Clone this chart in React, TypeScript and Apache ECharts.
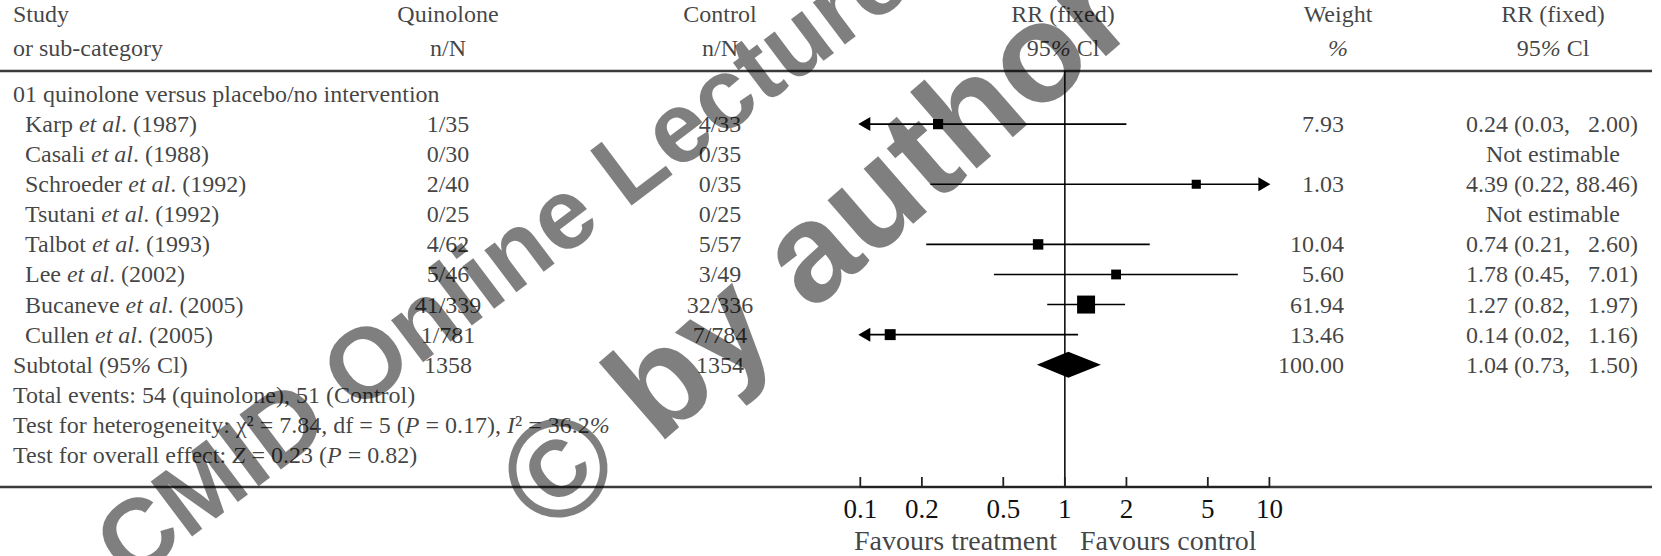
import React, { useEffect, useRef } from 'react';
import * as echarts from 'echarts';

// ---------------- data ----------------
const groupTitle = '01 quinolone versus placebo/no intervention';
const studies = ['Karp', 'Casali', 'Schroeder', 'Tsutani', 'Talbot', 'Lee', 'Bucaneve', 'Cullen'];
const years = ['1987', '1988', '1992', '1992', '1993', '2002', '2005', '2005'];
const quinoloneNN = ['1/35', '0/30', '2/40', '0/25', '4/62', '5/46', '41/339', '1/781'];
const controlNN = ['4/33', '0/35', '0/35', '0/25', '5/57', '3/49', '32/336', '7/784'];
const rrValues: (number | null)[] = [0.24, null, 4.39, null, 0.74, 1.78, 1.27, 0.14];
const rrLower: (number | null)[] = [0.03, null, 0.22, null, 0.21, 0.45, 0.82, 0.02];
const rrUpper: (number | null)[] = [2.0, null, 88.46, null, 2.6, 7.01, 1.97, 1.16];
const weights: (number | null)[] = [7.93, null, 1.03, null, 10.04, 5.6, 61.94, 13.46];
const subtotalTotals = ['1358', '1354'];
const subtotalWeight = 100.0;
const subtotalRR = [1.04, 0.73, 1.5];
const totalEvents = [54, 51];
const heterogeneity = { chi2: 7.84, df: 5, p: 0.17, i2: 36.2 };
const overallEffect = { z: 0.23, p: 0.82 };
const tickValues = [0.1, 0.2, 0.5, 1, 2, 5, 10];

// ---------------- layout ----------------
const W = 1661;
const H = 556;
const PITCH = 30.08;
const ROW0 = 94;
const Y_MIN = -3;
const GRID_TOP = ROW0 + Y_MIN * PITCH;
const TEXT_Y_MAX = 15;
const AXIS_Y = 487;
const PLOT_Y_MAX = Y_MIN + (AXIS_Y - GRID_TOP) / PITCH;
const rowOf = (px: number) => (px - ROW0) / PITCH;
const PLOT_LEFT = 860.3;
const PLOT_RIGHT = 1269.4;
const TICK_ROWS = 10 / PITCH;

const COL_STUDY = 13;
const COL_INDENT = 25;
const COL_Q = 448;
const COL_C = 720;
const COL_RRH = 1063;
const COL_WH = 1338;
const COL_W = 1344;
const COL_RR_L = 1466;
const COL_RR_R = 1638;
const COL_RR_C = 1553;

const FONT = '"Liberation Serif", "Times New Roman", serif';
const FS = 24;
const FS_AXIS = 27;
const FS_FAV = 28;
const TXT = '#111';
const base = { fontFamily: FONT, fontSize: FS, color: TXT };
const RICH = {
  n: { ...base },
  i: { ...base, fontStyle: 'italic' },
  f: { ...base, fontSize: FS_FAV },
};

const log10 = (v: number) => Math.log10(v);

type Align = 'left' | 'center' | 'right';
const txt = (x: number, row: number, str: string, align: Align) => ({
  value: [x, row],
  label: {
    show: true,
    position: 'inside',
    align,
    verticalAlign: 'middle',
    formatter: () => str,
    rich: RICH,
    ...base,
  },
});

const textItems: any[] = [];
// header
const hr1 = rowOf(14);
const hr2 = rowOf(48);
textItems.push(txt(COL_STUDY, hr1, '{n|Study}', 'left'));
textItems.push(txt(COL_STUDY, hr2, '{n|or sub-category}', 'left'));
textItems.push(txt(COL_Q, hr1, '{n|Quinolone}', 'center'));
textItems.push(txt(COL_Q, hr2, '{n|n/N}', 'center'));
textItems.push(txt(COL_C, hr1, '{n|Control}', 'center'));
textItems.push(txt(COL_C, hr2, '{n|n/N}', 'center'));
textItems.push(txt(COL_RRH, hr1, '{n|RR (fixed)}', 'center'));
textItems.push(txt(COL_RRH, hr2, '{n|95}{i|%}{n| Cl}', 'center'));
textItems.push(txt(COL_WH, hr1, '{n|Weight}', 'center'));
textItems.push(txt(COL_WH, hr2, '{i|%}', 'center'));
textItems.push(txt(COL_RR_C, hr1, '{n|RR (fixed)}', 'center'));
textItems.push(txt(COL_RR_C, hr2, '{n|95}{i|%}{n| Cl}', 'center'));

textItems.push(txt(COL_STUDY, 0, `{n|${groupTitle}}`, 'left'));
studies.forEach((s, k) => {
  const r = k + 1;
  textItems.push(txt(COL_INDENT, r, `{n|${s} }{i|et al}{n|. (${years[k]})}`, 'left'));
  textItems.push(txt(COL_Q, r, `{n|${quinoloneNN[k]}}`, 'center'));
  textItems.push(txt(COL_C, r, `{n|${controlNN[k]}}`, 'center'));
  const v = rrValues[k];
  if (v == null) {
    textItems.push(txt(COL_RR_C, r, '{n|Not estimable}', 'center'));
  } else {
    textItems.push(txt(COL_W, r, `{n|${(weights[k] as number).toFixed(2)}}`, 'right'));
    textItems.push(txt(COL_RR_L, r, `{n|${v.toFixed(2)} (${(rrLower[k] as number).toFixed(2)},}`, 'left'));
    textItems.push(txt(COL_RR_R, r, `{n|${(rrUpper[k] as number).toFixed(2)})}`, 'right'));
  }
});
const rs = studies.length + 1;
textItems.push(txt(COL_STUDY, rs, '{n|Subtotal (95}{i|%}{n| Cl)}', 'left'));
textItems.push(txt(COL_Q, rs, `{n|${subtotalTotals[0]}}`, 'center'));
textItems.push(txt(COL_C, rs, `{n|${subtotalTotals[1]}}`, 'center'));
textItems.push(txt(COL_W, rs, `{n|${subtotalWeight.toFixed(2)}}`, 'right'));
textItems.push(txt(COL_RR_L, rs, `{n|${subtotalRR[0].toFixed(2)} (${subtotalRR[1].toFixed(2)},}`, 'left'));
textItems.push(txt(COL_RR_R, rs, `{n|${subtotalRR[2].toFixed(2)})}`, 'right'));
textItems.push(
  txt(COL_STUDY, rs + 1, `{n|Total events: ${totalEvents[0]} (quinolone), ${totalEvents[1]} (Control)}`, 'left')
);
textItems.push(
  txt(
    COL_STUDY,
    rs + 2,
    `{n|Test for heterogeneity: χ² = ${heterogeneity.chi2.toFixed(2)}, df = ${heterogeneity.df} (}{i|P}{n| = ${heterogeneity.p.toFixed(
      2
    )}), }{i|I}{n|² = ${heterogeneity.i2.toFixed(1)}}{i|%}`,
    'left'
  )
);
textItems.push(
  txt(
    COL_STUDY,
    rs + 3,
    `{n|Test for overall effect: }{i|Z}{n| = ${overallEffect.z.toFixed(2)} (}{i|P}{n| = ${overallEffect.p.toFixed(2)})}`,
    'left'
  )
);
// axis titles
const favRow = rowOf(540);
textItems.push(txt(1057, favRow, '{f|Favours treatment}', 'right'));
textItems.push(txt(1080, favRow, '{f|Favours control}', 'left'));

// forest data
const ciData: number[][] = [];
rrValues.forEach((v, k) => {
  if (v == null) return;
  ciData.push([k + 1, log10(v), log10(rrLower[k] as number), log10(rrUpper[k] as number), weights[k] as number]);
});
const diamondData = [[rs, log10(subtotalRR[0]), log10(subtotalRR[1]), log10(subtotalRR[2])]];
const tickPositions = tickValues.map(log10);
// a single polyline running along the axis rule that rises at every tick value
const tickPath: number[][] = [];
tickPositions.forEach((t) => {
  tickPath.push([t, PLOT_Y_MAX]);
  tickPath.push([t, PLOT_Y_MAX - TICK_ROWS]);
  tickPath.push([t, PLOT_Y_MAX]);
});

const ruleTop = rowOf(71);
const ruleBottom = rowOf(AXIS_Y);
const ruleStyle = { color: '#3a3a3a', width: 2.5 };

const option: any = {
  animation: false,
  backgroundColor: '#fff',
  grid: [
    { left: 0, right: 0, top: GRID_TOP, height: (TEXT_Y_MAX - Y_MIN) * PITCH, containLabel: false },
    { left: PLOT_LEFT, right: W - PLOT_RIGHT, top: GRID_TOP, height: AXIS_Y - GRID_TOP, containLabel: false },
  ],
  xAxis: [
    { type: 'value', gridIndex: 0, min: 0, max: W, show: false },
    {
      type: 'value',
      gridIndex: 1,
      min: -1,
      max: 1,
      position: 'bottom',
      axisLine: { show: false, onZero: false },
      splitLine: { show: false },
      axisTick: { show: false },
      axisLabel: {
        show: true,
        margin: 8,
        fontFamily: FONT,
        fontSize: FS_AXIS,
        color: TXT,
        customValues: tickPositions,
        formatter: (v: number) => String(Number(Math.pow(10, v).toPrecision(2))),
      },
    },
  ],
  yAxis: [
    { type: 'value', gridIndex: 0, min: Y_MIN, max: TEXT_Y_MAX, inverse: true, show: false },
    { type: 'value', gridIndex: 1, min: Y_MIN, max: PLOT_Y_MAX, inverse: true, show: false },
  ],
  series: [
    {
      type: 'line',
      xAxisIndex: 0,
      yAxisIndex: 0,
      data: [
        [0, ruleTop],
        [1652, ruleTop],
      ],
      symbol: 'none',
      lineStyle: ruleStyle,
      silent: true,
    },
    {
      type: 'line',
      xAxisIndex: 0,
      yAxisIndex: 0,
      data: [
        [0, ruleBottom],
        [1652, ruleBottom],
      ],
      symbol: 'none',
      lineStyle: ruleStyle,
      silent: true,
    },
    {
      type: 'line',
      xAxisIndex: 1,
      yAxisIndex: 1,
      data: [
        [0, ruleTop],
        [0, PLOT_Y_MAX],
      ],
      symbol: 'none',
      lineStyle: { color: '#000', width: 1.5 },
      silent: true,
      z: 3,
    },
    {
      // axis ticks as one polyline (same mechanism as the reference line above)
      type: 'line',
      xAxisIndex: 1,
      yAxisIndex: 1,
      data: tickPath,
      symbol: 'none',
      clip: false,
      lineStyle: { color: '#222', width: 1.8 },
      silent: true,
      z: 7,
    },
    {
      type: 'custom',
      xAxisIndex: 1,
      yAxisIndex: 1,
      silent: true,
      clip: false,
      encode: { x: [1, 2, 3], y: 0 },
      data: ciData,
      z: 4,
      renderItem: (params: any, api: any) => {
        const row = api.value(0);
        const m = api.value(1);
        const lo = api.value(2);
        const hi = api.value(3);
        const w = api.value(4);
        const pLo = api.coord([Math.max(lo, -1), row]);
        const pHi = api.coord([Math.min(hi, 1), row]);
        const pM = api.coord([m, row]);
        const y = pM[1];
        const children: any[] = [
          {
            type: 'line',
            shape: { x1: pLo[0] + (lo < -1 ? 6 : 0), y1: y, x2: pHi[0] - (hi > 1 ? 6 : 0), y2: y },
            style: { stroke: '#000', lineWidth: 1.6 },
          },
        ];
        if (lo < -1) {
          children.push({
            type: 'polygon',
            shape: { points: [[pLo[0] - 2, y], [pLo[0] + 10, y - 7], [pLo[0] + 10, y + 7]] },
            style: { fill: '#000' },
          });
        }
        if (hi > 1) {
          children.push({
            type: 'polygon',
            shape: { points: [[pHi[0] + 1, y], [pHi[0] - 11, y - 7], [pHi[0] - 11, y + 7]] },
            style: { fill: '#000' },
          });
        }
        const s = 9 + 0.145 * w;
        children.push({
          type: 'rect',
          shape: { x: pM[0] - s / 2, y: y - s / 2, width: s, height: s },
          style: { fill: '#000' },
        });
        return { type: 'group', children };
      },
    },
    {
      type: 'custom',
      xAxisIndex: 1,
      yAxisIndex: 1,
      silent: true,
      clip: false,
      encode: { x: [1, 2, 3], y: 0 },
      data: diamondData,
      z: 4,
      renderItem: (params: any, api: any) => {
        const row = api.value(0);
        const pM = api.coord([api.value(1), row]);
        const pLo = api.coord([api.value(2), row]);
        const pHi = api.coord([api.value(3), row]);
        const y = pM[1];
        return {
          type: 'polygon',
          shape: { points: [[pLo[0], y], [pM[0], y - 13], [pHi[0], y], [pM[0], y + 13]] },
          style: { fill: '#000' },
        };
      },
    },
    {
      type: 'scatter',
      xAxisIndex: 0,
      yAxisIndex: 0,
      symbolSize: 1,
      itemStyle: { color: 'rgba(0,0,0,0)' },
      silent: true,
      data: textItems,
      z: 5,
    },
  ],
  graphic: [
    {
      type: 'text',
      x: 108,
      y: 556,
      rotation: (37 * Math.PI) / 180,
      z: 100,
      silent: true,
      style: {
        text: 'CMID Online Lecture',
        font: 'bold 100px "Liberation Sans", Arial, sans-serif',
        fill: 'rgba(0,0,0,0.5)',
        align: 'left',
        verticalAlign: 'middle',
      },
    },
    {
      type: 'text',
      x: 519,
      y: 502,
      rotation: (41 * Math.PI) / 180,
      z: 100,
      silent: true,
      style: {
        text: '© by author',
        font: 'bold 140px "Liberation Sans", Arial, sans-serif',
        fill: 'rgba(0,0,0,0.5)',
        align: 'left',
        verticalAlign: 'middle',
      },
    },
  ],
};

export default function App() {
  const ref = useRef<HTMLDivElement>(null);
  useEffect(() => {
    if (!ref.current) return;
    const chart = echarts.init(ref.current, null, { renderer: 'svg' });
    chart.setOption(option);
    return () => chart.dispose();
  }, []);
  return (
    <div
      ref={ref}
      style={{ position: 'fixed', left: 0, top: 0, width: W, height: H, background: '#fff' }}
    />
  );
}
